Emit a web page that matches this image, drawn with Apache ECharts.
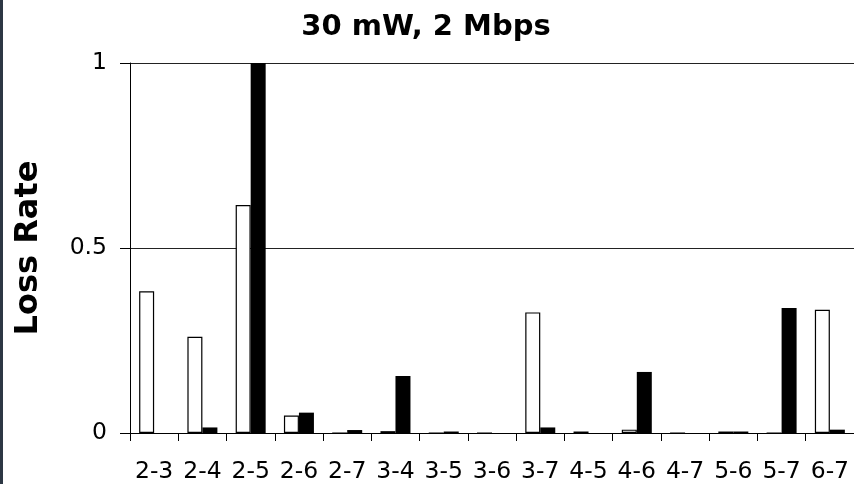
<!DOCTYPE html>
<html>
<head>
<meta charset="utf-8">
<script src="https://cdn.jsdelivr.net/npm/echarts@6/dist/echarts.min.js"></script>
<style>
html,body{margin:0;padding:0;background:#fff;}
#chart{width:854px;height:484px;}
</style>
</head>
<body>
<div id="chart"></div>
<script>
const titleText = '30 mW, 2 Mbps';
const yAxisName = 'Loss Rate';
const categories = ['2-3','2-4','2-5','2-6','2-7','3-4','3-5','3-6','3-7','4-5','4-6','4-7','5-6','5-7','6-7'];
const whiteSeries = [0.383, 0.26, 0.616, 0.047, 0, 0.005, 0, 0, 0.326, 0.004, 0.009, 0, 0.004, 0, 0.333];
const blackSeries = [0, 0.015, 1.0, 0.055, 0.008, 0.154, 0.004, 0, 0.015, 0, 0.165, 0, 0.004, 0.338, 0.009];
const yTicks = [0, 0.5, 1];

const chart = echarts.init(document.getElementById('chart'), null, {renderer: 'canvas'});
const font = 'DejaVu Sans';
chart.setOption({
  backgroundColor: '#ffffff',
  animation: false,
  title: {
    text: titleText,
    left: 421,
    textAlign: 'center',
    top: 8,
    textStyle: {fontFamily: font, fontWeight: 'bold', fontSize: 29, color: '#000'}
  },
  graphic: [{
    type: 'rect', left: 0, top: 0, shape: {width: 3, height: 484},
    style: {fill: '#2d3744'}, silent: true
  }],
  grid: {left: 130, top: 63, width: 726, height: 372, containLabel: false},
  xAxis: {
    type: 'category',
    data: categories,
    boundaryGap: true,
    axisLine: {show: true, lineStyle: {color: '#000', width: 1}},
    axisTick: {show: true, alignWithLabel: false, length: 8, lineStyle: {color: '#000'}},
    axisLabel: {fontFamily: font, fontSize: 23.5, color: '#000', margin: 27, interval: 0}
  },
  yAxis: {
    type: 'value',
    min: yTicks[0],
    max: yTicks[yTicks.length - 1],
    interval: 0.5,
    name: yAxisName,
    nameLocation: 'middle',
    nameGap: 85,
    nameTextStyle: {fontFamily: font, fontWeight: 'bold', fontSize: 32, color: '#000'},
    axisLine: {show: true, lineStyle: {color: '#000', width: 1}},
    axisTick: {show: true, length: 10, lineStyle: {color: '#000'}},
    splitLine: {show: true, lineStyle: {color: '#222', width: 1}},
    axisLabel: {
      fontFamily: font, fontSize: 23.5, color: '#000', margin: 23,
      formatter: v => (yTicks.includes(v) ? String(v) : '')
    }
  },
  series: [
    {
      name: 'white', type: 'bar', data: whiteSeries,
      barWidth: 15, barGap: '0%',
      itemStyle: {color: '#ffffff', borderColor: '#000', borderWidth: 1.2}
    },
    {
      name: 'black', type: 'bar', data: blackSeries,
      barWidth: 15, barGap: '0%',
      itemStyle: {color: '#000000', borderColor: '#000', borderWidth: 0}
    }
  ]
});
</script>
</body>
</html>
